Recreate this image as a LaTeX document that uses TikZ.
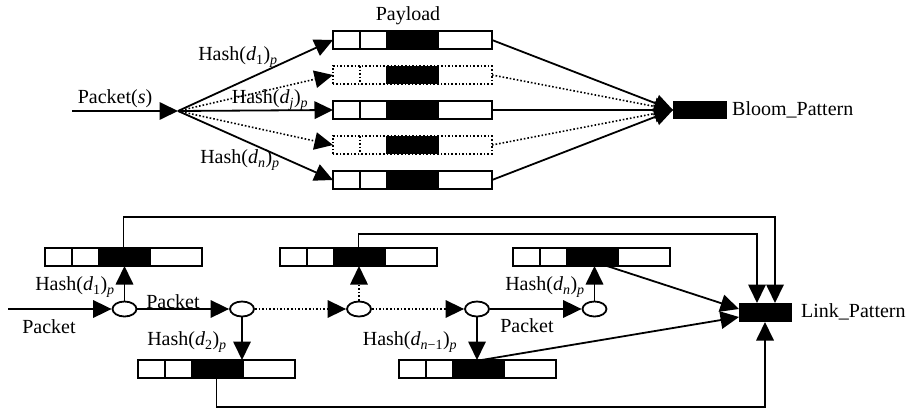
\documentclass[tikz,border=0pt]{standalone}
\usepackage{fontspec}
\setmainfont{Liberation Serif}
\usetikzlibrary{arrows.meta,calc,shapes.geometric}
\tikzset{
 ln/.style={line width=1.8pt},
 arr/.style={ln,-{Triangle[length=18.5pt,width=17.5pt]}},
 dotl/.style={line width=1.6pt,dotted},
 pb/.style={rectangle,minimum height=18pt,inner sep=0pt,outer sep=0pt},
 lbl/.style={font=\fontsize{20}{24}\selectfont,inner sep=1pt},
 ell/.style={draw,ln,ellipse,minimum width=24pt,minimum height=15pt,inner sep=0pt,fill=white},
 blk/.style={fill=black,rectangle,inner sep=0pt,outer sep=0pt},
}
\newcommand{\pbx}[5][]{%
 \node[pb,minimum width=#5pt] (#2) at (#3+#5/2,#4) {};
 \fill ($(#2.west)+(52.5,-9)$) rectangle ($(#2.west)+(105.5,9)$);
 \draw[ln,#1] ($(#2.west)+(27,-9)$) -- ($(#2.west)+(27,9)$);
 \draw[ln,#1] (#2.south west) rectangle (#2.north east);
}
\newcommand{\hsh}[2]{Hash(\textit{d}\textsubscript{#1})\textsubscript{\textit{p}}}
\begin{document}
\begin{tikzpicture}[x=1pt,y=-1pt]
\useasboundingbox (0,0) rectangle (912,409);
% ---------- top part ----------
\pbx{p1}{333}{40}{159}
\pbx[dotl]{p2}{333}{75}{159}
\pbx{p3}{333}{110}{159}
\pbx[dotl]{p4}{333}{145}{159}
\pbx{p5}{333}{180}{159}
\node[lbl] (payload) at (408,16) {Payload};
\coordinate (pin) at (72,111);
\coordinate (src) at (178,111);
\draw[arr] (pin) -- (src);
\node[lbl] (pkts) at (115,99) {Packet(\textit{s})};
\node[blk,minimum width=54pt,minimum height=18pt] (bloom) at (700,110) {};
\node[lbl,anchor=west] (bloomlbl) at (731,110) {Bloom\_Pattern};
\draw[arr] (src) -- (p1.west);
\draw[arr,dotl] (src) -- (p2.west);
\draw[arr] (src) -- (p3.west);
\draw[arr,dotl] (src) -- (p4.west);
\draw[arr] (src) -- (p5.west);
\draw[arr,dotl] (p2.east) -- (bloom.west);
\draw[arr,dotl] (p4.east) -- (bloom.west);
\draw[arr] (p1.east) -- (bloom.west);
\draw[arr] (p3.east) -- (bloom.west);
\draw[arr] (p5.east) -- (bloom.west);
\node[lbl] (h1) at (238,57) {\hsh{1}{}};
\node[lbl] (hj) at (270,100) {\hsh{\textit{j}}{}};
\node[lbl] (hn) at (240,160) {\hsh{\textit{n}}{}};
% ---------- bottom part ----------
\pbx{A}{45}{257}{157}
\pbx{B}{138}{369}{157}
\pbx{C}{280}{257}{157}
\pbx{D}{513}{257}{157}
\pbx{E}{399}{369}{157}
\node[ell] (e1) at (124.5,309) {};
\node[ell] (e2) at (242,309) {};
\node[ell] (e3) at (359,309) {};
\node[ell] (e4) at (477,309) {};
\node[ell] (e5) at (594.5,309) {};
\node[blk,minimum width=53pt,minimum height=19pt] (link) at (765.5,312.5) {};
\node[lbl,anchor=west] (linklbl) at (800,312) {Link\_Pattern};
\coordinate (in) at (8,309);
\draw[arr] (in) -- (e1.west);
\draw[arr] (e1.north) -- (e1 |- A.south);
\draw[arr] (e1.east) -- (e2.west);
\draw[arr] (e2.south) -- (e2 |- B.north);
\draw[arr,dotl] (e2.east) -- (e3.west);
\draw[arr,dotl] (e3.north) -- (e3 |- C.south);
\draw[arr,dotl] (e3.east) -- (e4.west);
\draw[arr] (e4.south) -- (e4 |- E.north);
\draw[arr] (e4.east) -- (e5.west);
\draw[arr] (e5.north) -- (e5 |- D.south);
\coordinate (t1) at (775,217);
\coordinate (t2) at (757,234);
\coordinate (t3) at (765,407);
\draw[arr] (A.north) |- (t1) -- (t1 |- link.north);
\draw[arr] (C.north) |- (t2) -- (t2 |- link.north);
\draw[arr] (B.south) |- (t3) -- (t3 |- link.south);
\draw[arr] ($(D.south east)+(-63,0)$) -- ($(link.west)+(0,-3.5)$);
\draw[arr] ($(E.north)+(4,0)$) -- ($(link.west)+(0,4.5)$);
\node[lbl] (bh1) at (75,287) {\hsh{1}{}};
\node[lbl] (bpk1) at (49,327) {Packet};
\node[lbl] (bpk2) at (173,302) {Packet};
\node[lbl] (bh2) at (187,342) {\hsh{2}{}};
\node[lbl] (bhn1) at (410,342) {\hsh{\textit{n}−1}{}};
\node[lbl] (bhn) at (545,287) {\hsh{\textit{n}}{}};
\node[lbl] (bpk3) at (527,326) {Packet};
\end{tikzpicture}
\end{document}
